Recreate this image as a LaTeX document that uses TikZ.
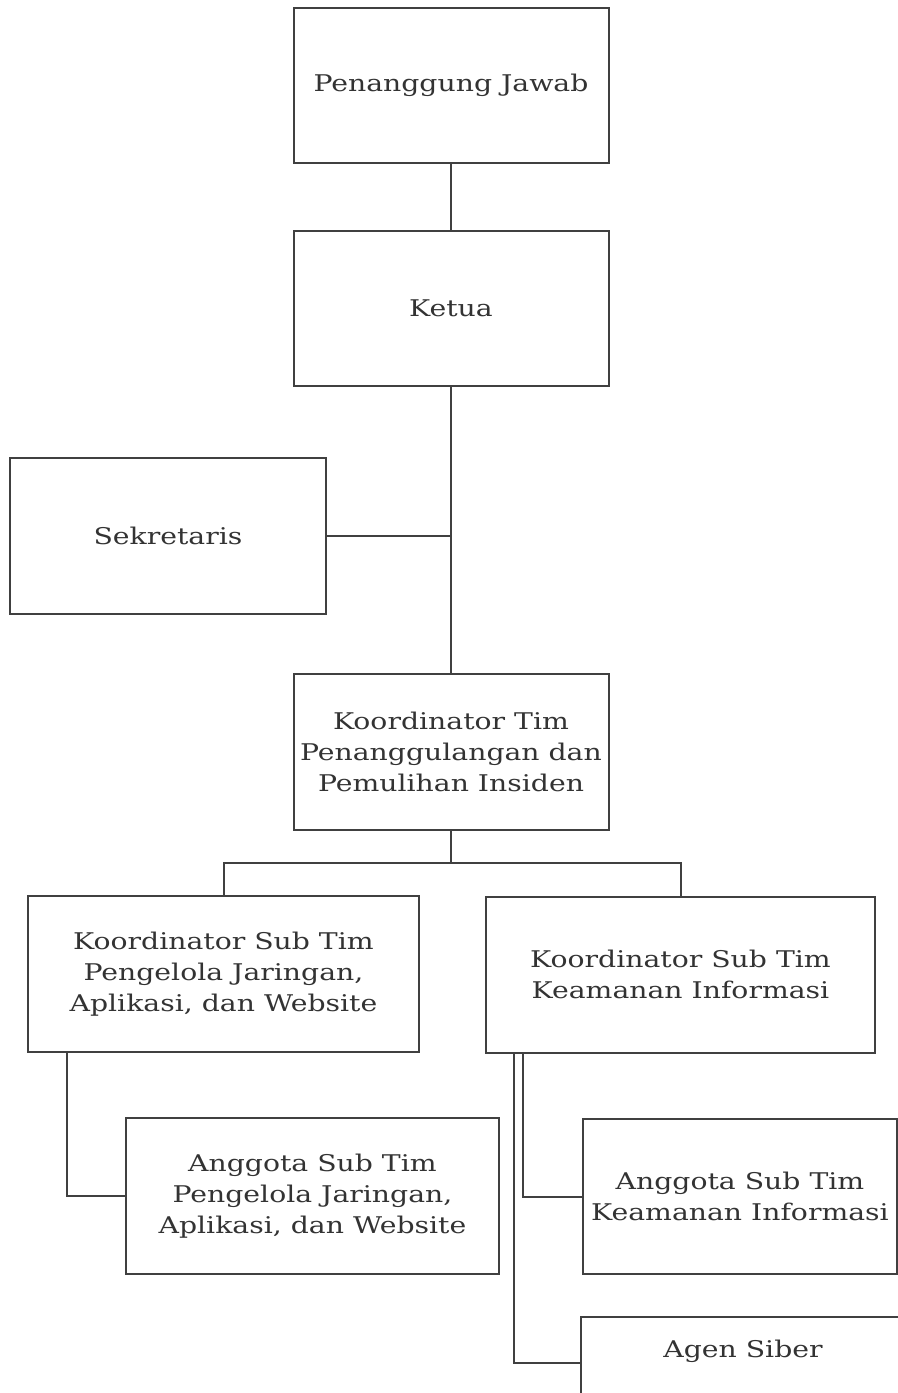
\documentclass[tikz,border=0pt]{standalone}
\usepackage{fontspec}
\setmainfont[FakeStretch=1.23]{DejaVu Serif}
\begin{document}
\begin{tikzpicture}[x=0.5pt,y=-0.5pt,
  box/.style={draw=black!75, line width=1pt, text=black!80, align=center,
    font=\fontsize{11.5}{15.5}\selectfont, inner sep=0pt},
  link/.style={draw=black!75, line width=1pt}]

\useasboundingbox (0,0) rectangle (898,1393);
\clip (0,0) rectangle (898,1393);

\node[box, minimum width=157.5pt, minimum height=77.5pt] (pj) at (451,85.5) {Penanggung Jawab};
\node[box, minimum width=157.5pt, minimum height=77.5pt] (ketua) at (451,308.5) {Ketua};
\node[box, minimum width=158pt, minimum height=78pt] (sek) at (168,536) {Sekretaris};
\node[box, minimum width=157.5pt, minimum height=78pt] (ktim) at (451,752) {Koordinator Tim\\Penanggulangan dan\\Pemulihan Insiden};

\node[box, minimum width=195.5pt, minimum height=78pt] (kpja) at (223.5,974) {Koordinator Sub Tim\\Pengelola Jaringan,\\Aplikasi, dan Website};
\node[box, minimum width=194.5pt, minimum height=78pt] (kki) at (680.5,974.5) {Koordinator Sub Tim\\Keamanan Informasi};

\node[box, minimum width=186.5pt, minimum height=78pt] (apja) at (312.5,1196) {Anggota Sub Tim\\Pengelola Jaringan,\\Aplikasi, dan Website};
\node[box, minimum width=157pt, minimum height=77.5pt] (aki) at (740,1196.5) {Anggota Sub Tim\\Keamanan Informasi};
\node[box, minimum width=162pt, text height=20pt, text depth=26pt] (agen) at (743,1363) {Agen Siber};

\coordinate (split) at (451,863);

\draw[link] (pj) -- (ketua);
\draw[link] (ketua) -- (ktim);
\draw[link] (sek.east) -- (sek.east -| ketua.south);
\draw[link] (ktim.south) -- (split);
\draw[link] (kpja.north) |- (split) -| (kki.north);

\draw[link] ([xshift=20pt]kpja.south west) |- (apja.west);
\draw[link] ([xshift=19pt]kki.south west) |- (aki.west);
\draw[link] ([xshift=14.5pt]kki.south west) |- (agen.west);

\end{tikzpicture}
\end{document}
